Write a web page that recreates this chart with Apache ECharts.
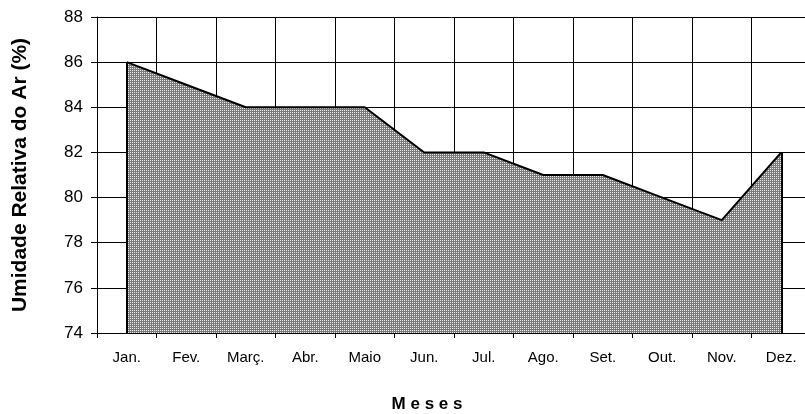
<!DOCTYPE html>
<html><head><meta charset="utf-8">
<script src="https://cdn.jsdelivr.net/npm/echarts@6/dist/echarts.min.js"></script>
<style>html,body{margin:0;padding:0;background:#fff}#c{width:805px;height:414px}</style>
</head><body><div id="c"></div>
<script>
const months = ['Jan.','Fev.','Març.','Abr.','Maio','Jun.','Jul.','Ago.','Set.','Out.','Nov.','Dez.'];
const humidity = [86,85,84,84,84,82,82,81,81,80,79,82];
const yMin = 74, yMax = 88, yStep = 2;
const yTitle = 'Umidade Relativa do Ar (%)';
const xTitle = 'M e s e s';

const pc = document.createElement('canvas');
pc.width = 2; pc.height = 2;
const px = pc.getContext('2d');
px.fillStyle = '#7a7a7a'; px.fillRect(0,0,2,2);
px.fillStyle = '#ececec'; px.fillRect(0,0,1,1);

const FONT = '"Liberation Sans", Arial, sans-serif';
const chart = echarts.init(document.getElementById('c'), null, {renderer:'canvas'});
const last = months.length - 1;
chart.setOption({
  animation:false,
  backgroundColor:'#fff',
  grid:{left:97, top:17, width:714, height:316, containLabel:false, outerBoundsMode:'none'},
  xAxis:{
    type:'category', data:months, boundaryGap:true,
    axisLine:{lineStyle:{color:'#000', width:1}},
    axisTick:{show:true, length:5, lineStyle:{color:'#000'}},
    splitLine:{show:true, lineStyle:{color:'#000', width:1}},
    axisLabel:{color:'#000', fontSize:15, fontFamily:FONT, margin:17}
  },
  yAxis:{
    type:'value', min:yMin, max:yMax, interval:yStep,
    axisLine:{show:true, lineStyle:{color:'#000', width:1}},
    axisTick:{show:true, length:6, lineStyle:{color:'#000'}},
    splitLine:{show:true, lineStyle:{color:'#000', width:1}},
    axisLabel:{color:'#000', fontSize:17, fontFamily:FONT, margin:14}
  },
  graphic:[
    {type:'text', x:20, y:175, rotation:Math.PI/2,
     style:{text:yTitle, fill:'#000', font:'bold 21px ' + FONT, textAlign:'center', textVerticalAlign:'middle'}},
    {type:'text', x:427, y:404,
     style:{text:xTitle, fill:'#000', font:'bold 17px ' + FONT, textAlign:'center', textVerticalAlign:'middle'}}
  ],
  series:[{
    type:'line', data:humidity, symbol:'none',
    lineStyle:{color:'#000', width:2},
    areaStyle:{color:{image:pc, repeat:'repeat'}, opacity:1, origin:'start'},
    markLine:{
      silent:true, symbol:['none','none'],
      label:{show:false},
      lineStyle:{color:'#000', width:2, type:'solid'},
      data:[
        [{coord:[months[0], yMin]},{coord:[months[0], humidity[0]]}],
        [{coord:[months[last], yMin]},{coord:[months[last], humidity[last]]}]
      ]
    }
  }]
});
</script></body></html>
